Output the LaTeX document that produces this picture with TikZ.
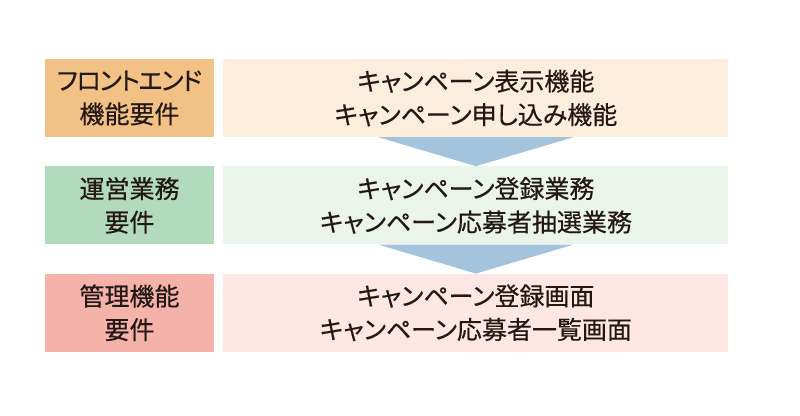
\documentclass[tikz,border=0pt]{standalone}
\usepackage{fontspec}
\setmainfont{Noto Sans CJK JP}[RawFeature=+palt,FakeBold=0.4]
\usetikzlibrary{positioning}
\definecolor{feleft}{HTML}{F2C185}
\definecolor{feright}{HTML}{FCEDDD}
\definecolor{opleft}{HTML}{B1DBBB}
\definecolor{opright}{HTML}{EAF4EA}
\definecolor{mgleft}{HTML}{F4B2AB}
\definecolor{mgright}{HTML}{FDE6E3}
\definecolor{flowblue}{HTML}{A4C3DD}
\definecolor{inkblack}{HTML}{231815}

\begin{document}
\begin{tikzpicture}[x=1pt,y=-1pt,% pixel-like coordinates, y downwards
      every node/.style={
        align=center,     % so that "\\" breaks the line
        inner sep=0pt,
        text=inkblack,
        font=\fontsize{25}{33.5}\selectfont
      },
      labelbox/.style={minimum width=169pt,minimum height=78pt},
      itembox/.style={minimum width=505pt,minimum height=78pt}
    ]
    \useasboundingbox (0,0) rectangle (800,415);
    \node[labelbox,fill=feleft](L1) at (129.5,98){{\addfontfeature{LetterSpace=-5}フロントエンド}\\機能要件};
    \node[itembox,fill=feright](R1)[right=9pt of L1]{キャンペーン表示機能\\キャンペーン申し込み機能};
    \node[labelbox,fill=opleft](L2)[below=29pt of L1]{運営業務\\要件};
    \node[itembox,fill=opright](R2)[right=9pt of L2]{キャンペーン登録業務\\キャンペーン応募者抽選業務};
    \node[labelbox,fill=mgleft](L3)[below=29pt of L2]{管理機能\\要件};
    \node[itembox,fill=mgright](R3)[right=9pt of L3]{キャンペーン登録画面\\キャンペーン応募者一覧画面};
    % flow arrows between the rows
    \fill[flowblue] ([xshift=-97.5pt]R1.south) -- ([xshift=97.5pt]R1.south) -- (R2.north) -- cycle;
    \fill[flowblue] ([xshift=-97.5pt]R2.south) -- ([xshift=97.5pt]R2.south) -- (R3.north) -- cycle;
  \end{tikzpicture}
\end{document}
